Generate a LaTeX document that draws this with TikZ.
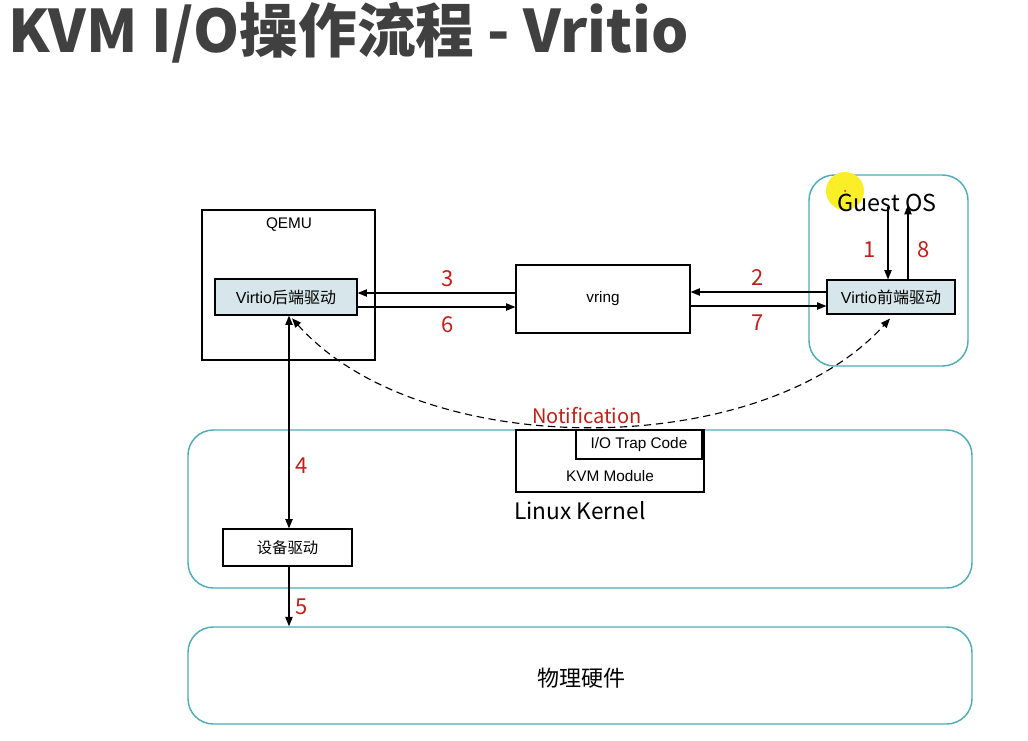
\documentclass[tikz,border=0pt]{standalone}
\usepackage{fontspec}
\setmainfont{Noto Sans CJK SC}
\newfontfamily\arialf{Liberation Sans}
\newfontfamily\cjkf{Noto Sans CJK SC}
\usetikzlibrary{arrows.meta}
\definecolor{zoneteal}{RGB}{80,172,182}
\definecolor{drvfill}{RGB}{214,230,234}
\definecolor{numred}{RGB}{192,32,26}
\definecolor{titlegray}{RGB}{64,64,64}
\definecolor{cursorY}{RGB}{250,238,40}
\tikzset{
  sz/.style 2 args={minimum width=#1*0.75pt, minimum height=#2*0.75pt},
  box/.style={draw=black, line width=0.9pt, fill=white, inner sep=0pt},
  drv/.style={box, fill=drvfill},
  zone/.style={draw=zoneteal, line width=1.1pt, rounded corners=19pt, inner sep=0pt},
  num/.style={text=numred, font=\cjkf\fontsize{16.5}{18}\selectfont, inner sep=0pt},
  lbl/.style={font=\arialf\fontsize{11.5}{13}\selectfont, inner sep=0pt},
  big/.style={font=\cjkf\fontsize{16.5}{18}\selectfont, inner sep=0pt},
  arr/.style={-{Triangle[length=7pt,width=5.5pt]}, line width=0.85pt},
  arrb/.style={{Triangle[length=7pt,width=5.5pt]}-{Triangle[length=7pt,width=5.5pt]}, line width=0.85pt},
  notify/.style={{Triangle[length=7pt,width=5.5pt]}-{Triangle[length=7pt,width=5.5pt]}, line width=0.85pt, dash pattern=on 5.5pt off 3.5pt}
}
\begin{document}
\begin{tikzpicture}[x=0.75pt,y=-0.75pt]
\useasboundingbox (0,0) rectangle (1028,740);
\fill[white] (0,0) rectangle (1028,740);

% title
\node[anchor=base west, font=\cjkf\bfseries\fontsize{44}{50}\selectfont, text=titlegray, inner sep=0pt] (title) at (8,52) {KVM I/O操作流程 - Vritio};

% zones
\node[zone, sz={784}{158}] (kernel) at (580,509) {};
\node[zone, sz={784}{97}] (hw) at (580,675.5) {};
\node[zone, sz={159}{191}] (guest) at (888.5,270.5) {};
\node[circle, fill=cursorY, inner sep=0pt, minimum size=28.5pt] (cursor) at (845,191) {};
\node[circle, fill=red, inner sep=0pt, minimum size=1.5pt] (cursordot) at (845,191) {};

% boxes
\node[box, sz={173}{150}] (qemu) at (288.5,285) {};
\node[lbl] (qemulbl) at (289,225) {QEMU};
\node[drv, sz={142}{36}] (back) at (286,297) {\fontsize{12}{14}\selectfont{\arialf Virtio}{\cjkf 后端驱动}};
\node[box, sz={174}{68}, lbl] (vring) at (603,299) {vring};
\node[drv, sz={128}{34}] (front) at (891,297) {\fontsize{12}{14}\selectfont{\arialf Virtio}{\cjkf 前端驱动}};
\node[big, font=\cjkf\fontsize{17.5}{19}\selectfont] (gtext) at (887,203) {Guest OS};

\node[box, sz={188}{62}] (kvm) at (610,461) {};
\node[lbl] (kvmlbl) at (610,476) {KVM Module};
\node[box, sz={126}{29}, lbl] (trap) at (639,444.5) {I/O Trap Code};
\node[big, font=\cjkf\fontsize{17}{19}\selectfont] (lk) at (580,511) {Linux Kernel};
\node[box, sz={129}{37}, font=\cjkf\fontsize{11.5}{13}\selectfont] (dev) at (287.5,547.5) {设备驱动};
\node[big] (hwl) at (581,678) {物理硬件};

% vring arrows
\draw[arr] ([yshift=4.5pt]vring.west) -- ([yshift=3pt]back.east);
\draw[arr] ([yshift=-7.5pt]back.east) -- ([yshift=-6pt]vring.west);
\draw[arr] ([yshift=3.75pt]front.west) -- ([yshift=5.25pt]vring.east);
\draw[arr] ([yshift=-5.25pt]vring.east) -- ([yshift=-6.75pt]front.west);

% guest arrows
\coordinate (g1) at (888,207);
\coordinate (g8) at (908,205);
\draw[arr] (g1) -- (g1 |- front.north);
\draw[arr] (g8 |- front.north) -- (g8);

% vertical arrows
\coordinate (c4) at (289,400);
\draw[arrb] (c4 |- back.south) -- (c4 |- dev.north);
\draw[arr] (c4 |- dev.south) -- (c4 |- hw.north);

% notification
\draw[notify] ([xshift=4.5pt,yshift=-2pt]back.south) .. controls (420,462) and (760,462) .. ([xshift=-0.75pt,yshift=-3pt]front.south);
\node[text=numred, font=\cjkf\fontsize{15}{17}\selectfont, inner sep=0pt] (notif) at (587,416) {Notification};

% numbers
\node[num] (n1) at (870,250) {1};
\node[num] (n8) at (924,250) {8};
\node[num] (n2) at (758,278) {2};
\node[num] (n7) at (758,323) {7};
\node[num] (n3) at (448,279) {3};
\node[num] (n6) at (448,325) {6};
\node[num] (n4) at (302,466) {4};
\node[num] (n5) at (302,607) {5};
\end{tikzpicture}
\end{document}
